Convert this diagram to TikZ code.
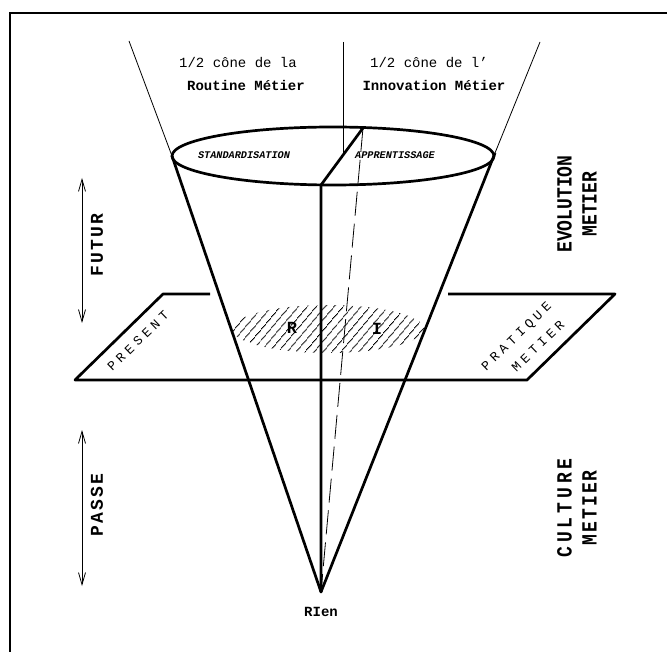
\documentclass[tikz,border=0pt]{standalone}
\usepackage{fontspec}
\usepackage{graphicx}
\setmainfont{Liberation Mono}
\newfontfamily\spacedfont[LetterSpace=12]{Liberation Mono}
\newfontfamily\widefont[LetterSpace=22]{Liberation Mono}
\newfontfamily\planefont[LetterSpace=32]{Liberation Mono}
\newcommand{\tallword}[1]{\scalebox{1}[1.2]{#1}}
\usetikzlibrary{arrows.meta,patterns.meta}

\begin{document}
\begin{tikzpicture}[x=1pt, y=-1pt,
    thickline/.style={line width=2.7pt, line join=round},
    thinline/.style={line width=0.8pt},
    timeaxis/.style={{Straight Barb[length=12pt,width=7pt]}-{Straight Barb[length=12pt,width=7pt]}, line width=0.8pt},
    toplab/.style={font=\fontsize{14}{16}\selectfont},
    rimlab/.style={font=\bfseries\itshape\fontsize{10.2}{12}\selectfont},
    sidelab/.style={rotate=90, align=center, font=\bfseries\fontsize{18}{25}\selectfont},
    planelab/.style={rotate=44, font=\planefont\fontsize{13}{15}\selectfont},
    hatchlab/.style={font=\bfseries\fontsize{17}{20}\selectfont}
]
\useasboundingbox (0,0) rectangle (667,652);

% frame (top and left only)
\draw[line width=2.6pt] (10,652) -- (10,13) -- (667,13);

% points of the cone
\coordinate (apex) at (321,592);
\coordinate (rimL) at (172,156);
\coordinate (rimR) at (495,153);
\coordinate (topL) at (129,41);
\coordinate (topR) at (540,42);
\coordinate (front) at (321,185);
\coordinate (back) at (363,128);
\coordinate (splitTop) at (343,42);
\coordinate (splitBot) at (343,154);

% points of the present plane
\coordinate (planeTL) at (163,294);
\coordinate (planeTR) at (615,294);
\coordinate (planeBR) at (527,380);
\coordinate (planeBL) at (75,380);
\coordinate (gapL) at (210,294);
\coordinate (gapR) at (448,294);

% present plane
\draw[thickline] (gapL) -- (planeTL) -- (planeBL) -- (planeBR) -- (planeTR) -- (gapR);

% hatched cut of the cone
\fill[pattern={Lines[angle=50,distance=6.5pt,line width=1pt]}] (328,329) ellipse [x radius=96, y radius=24];
\node[hatchlab] (rlab) at (292,328) {R};
\node[hatchlab] (ilab) at (377,329) {I};

% cone
\draw[thinline] (topL) -- (rimL);
\draw[thinline] (topR) -- (rimR);
\draw[thinline] (splitTop) -- (splitBot);
\draw[thickline] (333,156) ellipse [x radius=161, y radius=29];
\draw[thickline] (rimL) -- (apex) -- (rimR);
\draw[thickline] (back) -- (front) -- (apex);
\draw[thinline, dash pattern=on 24pt off 8pt] (back) -- (apex);

% labels over the cone
\node[toplab] (routineA) at (238,63) {1/2 cône de la};
\node[toplab, font=\bfseries\fontsize{14}{16}\selectfont] (routineB) at (246,85) {Routine Métier};
\node[toplab] (innovA) at (429,63) {1/2 cône de l'};
\node[toplab, font=\bfseries\fontsize{14}{16}\selectfont] (innovB) at (434,85) {Innovation Métier};
\node[rimlab] (standard) at (244,155) {STANDARDISATION};
\node[rimlab] (apprent) at (395,155) {APPRENTISSAGE};

% plane labels
\node[planelab] (present) at (138,341) {PRESENT};
\node[planelab] (pratique) at (517,337) {PRATIQUE};
\node[planelab] (pratiqueB) at (538,346) {METIER};

% right side
\node[sidelab] (evolution) at (577,204) {\tallword{EVOLUTION}\\\tallword{METIER}};
\node[sidelab] (culture) at (577,508) {\tallword{\widefont CULTURE}\\\tallword{\spacedfont METIER}};

% time axis
\coordinate (futTop) at (82,178);
\coordinate (futBot) at (82,323);
\coordinate (pasTop) at (82,430);
\coordinate (pasBot) at (82,586);
\draw[timeaxis] (futTop) -- (futBot);
\draw[timeaxis] (pasTop) -- (pasBot);
\node[sidelab, font=\bfseries\spacedfont\fontsize{18}{25}\selectfont] (futur) at (97,245) {FUTUR};
\node[sidelab, font=\bfseries\spacedfont\fontsize{18}{25}\selectfont] (passe) at (97,505) {PASSE};

\node[font=\bfseries\fontsize{14}{16}\selectfont] (rien) at (321,612) {RIen};
\end{tikzpicture}
\end{document}
